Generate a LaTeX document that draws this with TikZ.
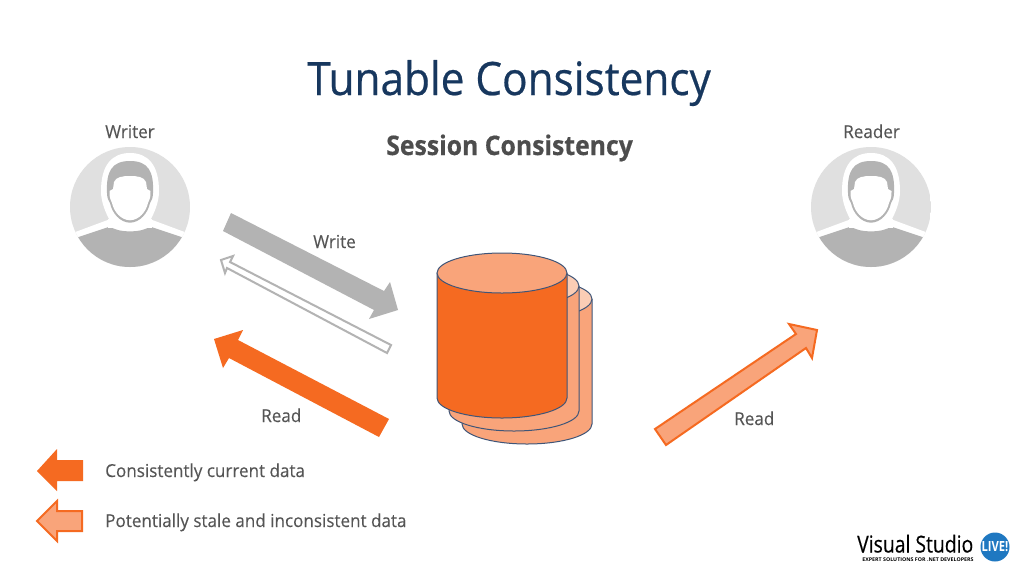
\documentclass[tikz,border=0pt]{standalone}
\usepackage{fontspec}
\setmainfont{Open Sans}
\newfontfamily\logofont[RawFeature={embolden=0.4}]{Open Sans}
\newfontfamily\logobold{Open Sans Bold}
\newfontfamily\titlefont[RawFeature={embolden=0.5}]{Open Sans}
\newfontfamily\lblfont[RawFeature={embolden=0.25}]{Open Sans}
\newfontfamily\sessfont[RawFeature={embolden=0.5}]{Open Sans Bold}
\definecolor{titleblue}{HTML}{17375E}
\definecolor{txtgray}{HTML}{555555}
\definecolor{boldgray}{HTML}{4D4D4D}
\definecolor{orangeA}{HTML}{F56A21}
\definecolor{orangeB}{HTML}{F9A47A}
\definecolor{orangeC}{HTML}{FBCDB5}
\definecolor{cylline}{HTML}{3F5578}
\definecolor{grayA}{HTML}{B3B3B3}
\definecolor{grayB}{HTML}{E0E0E0}
\definecolor{logoblue}{HTML}{1F78C1}
\tikzset{
  lbl/.style={anchor=base west,inner sep=0pt,text=txtgray,xscale=0.955,font=\lblfont\fontsize{13.4}{16}\selectfont},
  cyl/.style={draw=cylline,line width=0.75pt,line join=round},
  person/.pic={
    \begin{scope}
      \clip (0,0) circle (60);
      \fill[grayB] (-60,-60) rectangle (60,60);
      \fill[white] (-60,27) -- (-21,12.5) -- (21,12.5) -- (60,27) -- (60,60) -- (-60,60) -- cycle;
      \fill[grayA] (-56,31.5) -- (-20,19.5) .. controls (-12,26) and (12,26) .. (20,19.5) -- (56,31.5) -- (60,60) -- (-60,60) -- cycle;
    \end{scope}
    % white halo of head
    \fill[white] (-29,-16) .. controls (-29,-42) and (-18,-54) .. (0,-54) .. controls (18,-54) and (29,-42) .. (29,-16)
       .. controls (29,-4) and (24,6) .. (20,14) -- (-20,14) .. controls (-24,6) and (-29,-4) .. (-29,-16) -- cycle;
    \fill[white] (-22,12) rectangle (22,21);
    % hair and outline
    \fill[grayA] (-23,-14) .. controls (-24,-36) and (-18,-46) .. (0,-46) .. controls (18,-46) and (24,-36) .. (23,-14)
       .. controls (23,-8) and (21,-6) .. (20,-4) .. controls (18,6) and (10,15.5) .. (0,15.7) .. controls (-10,15.5) and (-18,6) .. (-20,-4) .. controls (-21,-6) and (-23,-8) .. (-23,-14) -- cycle;
    % face
    \fill[white] (-16,-25) .. controls (-14,-30) and (-8,-31) .. (0,-31) .. controls (8,-31) and (14,-30) .. (16,-25)
       -- (17,-18) -- (20.5,-16) .. controls (21,-9) and (19,-7) .. (18,-4) .. controls (16,5) and (9,13) .. (0,13.3) .. controls (-9,13) and (-16,5) .. (-18,-4) .. controls (-19,-7) and (-21,-9) .. (-20.5,-16) -- (-17,-18) -- cycle;
  }
}
\begin{document}
\begin{tikzpicture}[x=0.75pt,y=-0.75pt]
\useasboundingbox (0,0) rectangle (1024,576);
\fill[white] (0,0) rectangle (1024,576);

% texts
\node[anchor=base west,inner sep=0pt,text=titleblue,xscale=0.92,font=\titlefont\fontsize{34.5}{40}\selectfont] (title) at (307,95) {Tunable Consistency};
\node[anchor=base west,inner sep=0pt,text=boldgray,xscale=0.92,font=\sessfont\fontsize{20.2}{22}\selectfont] (session) at (386,155) {Session Consistency};
\node[lbl] (writer) at (105,138) {Writer};
\node[lbl] (reader) at (843,138) {Reader};
\node[lbl] (writelbl) at (313,248) {Write};
\node[lbl] (readl) at (261,422) {Read};
\node[lbl] (readr) at (734,425) {Read};
\node[lbl] (legA) at (105,477) {Consistently current data};
\node[lbl] (legB) at (105,527) {Potentially stale and inconsistent data};

% persons
\pic at (130,207) {person};
\pic at (871,207) {person};

% arrows
\fill[grayA] (231,213) -- (384,291) -- (390,282) -- (398,310) -- (369,319) -- (374,310) -- (223,231) -- cycle;
\draw[grayA,line width=1.5pt,fill=white,line join=miter] (221,260) -- (233,256) -- (230,262) -- (391,345) -- (387,353) -- (227,268) -- (225,273) -- cycle;
\fill[orangeA] (214,339) -- (243,330) -- (238,340) -- (389,419) -- (379,437) -- (229,358) -- (223,368) -- cycle;
\draw[orangeA,line width=1.5pt,fill=orangeB,line join=miter] (655,429) -- (796,334) -- (789,324) -- (817,330) -- (812,358) -- (806,348) -- (666,445) -- cycle;

% legend arrows
\fill[orangeA] (37,471) -- (57,449) -- (57,460) -- (83,460) -- (83,481) -- (57,481) -- (57,491) -- cycle;
\draw[orangeA,line width=1.5pt,fill=orangeB,line join=miter] (37,521) -- (57,501) -- (57,511) -- (82,511) -- (82,531) -- (57,531) -- (57,541) -- cycle;

% cylinders (back to front)
\draw[cyl,fill=orangeB] (462,299) -- (462,424) arc[start angle=180,end angle=0,x radius=65,y radius=20] -- (592,299) -- cycle;
\draw[cyl,fill=orangeC] (527,299) ellipse[x radius=65,y radius=20];
\draw[cyl,fill=orangeB] (449,286) -- (449,411) arc[start angle=180,end angle=0,x radius=65,y radius=20] -- (579,286) -- cycle;
\draw[cyl,fill=orangeC] (514,286) ellipse[x radius=65,y radius=20];
\draw[cyl,fill=orangeA] (437,273) -- (437,398) arc[start angle=180,end angle=0,x radius=65,y radius=20] -- (567,273) -- cycle;
\draw[cyl,fill=orangeB] (502,273) ellipse[x radius=65,y radius=20];

% logo
\node[anchor=base west,inner sep=0pt,text=black,font=\logofont\fontsize{17.5}{18}\selectfont,xscale=0.83] (vs) at (857,552.5) {Visual Studio};
\node[anchor=base west,inner sep=0pt,text=black,font=\logobold\fontsize{3.8}{4}\selectfont,xscale=1.05] (vstag) at (862,561) {EXPERT SOLUTIONS FOR .NET DEVELOPERS};
\fill[logoblue] (995,547) circle (14.5);
\node[inner sep=0pt,text=white,font=\logobold\fontsize{10.5}{11}\selectfont,xscale=0.8] (live) at (995,547) {LIVE!};
\end{tikzpicture}
\end{document}
